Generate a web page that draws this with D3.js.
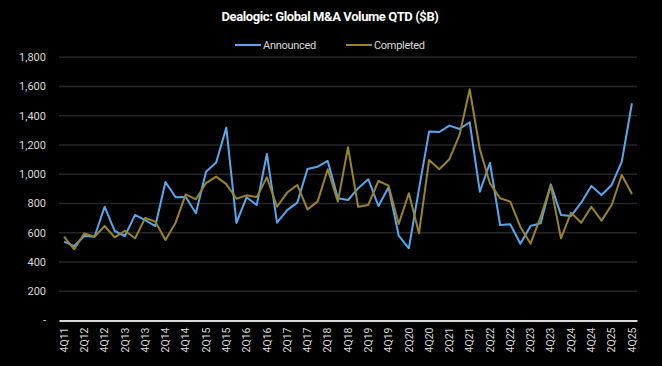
<!DOCTYPE html>
<html><head><meta charset="utf-8">
<script src="https://cdn.jsdelivr.net/npm/d3@7"></script>
<style>
html,body{margin:0;padding:0;background:#000;}
svg{display:block;}
text{font-family:Roboto, "Liberation Sans", sans-serif;}
</style></head>
<body>
<script>
const quarters = ["4Q11","1Q12","2Q12","3Q12","4Q12","1Q13","2Q13","3Q13","4Q13","1Q14","2Q14","3Q14","4Q14",
"1Q15","2Q15","3Q15","4Q15","1Q16","2Q16","3Q16","4Q16","1Q17","2Q17","3Q17","4Q17","1Q18","2Q18","3Q18","4Q18",
"1Q19","2Q19","3Q19","4Q19","1Q20","2Q20","3Q20","4Q20","1Q21","2Q21","3Q21","4Q21","1Q22","2Q22","3Q22","4Q22",
"1Q23","2Q23","3Q23","4Q23","1Q24","2Q24","3Q24","4Q24","1Q25","2Q25","3Q25","4Q25"];
const announced = [539,509,578,573,778,612,578,722,687,646,947,843,845,733,1018,1080,1319,667,843,790,1139,669,755,806,1036,1052,1091,836,824,904,966,783,911,580,494,900,1292,1289,1333,1310,1356,881,1079,653,658,525,646,665,931,722,715,806,920,858,927,1086,1486];
const completed = [573,487,596,573,646,569,614,562,701,676,551,669,863,829,940,984,933,833,856,844,979,778,875,927,760,813,1034,813,1185,778,790,954,922,660,870,596,1098,1034,1103,1269,1581,1171,938,836,813,640,526,710,922,562,737,669,778,683,790,995,865];
const yTicks = [0,200,400,600,800,1000,1200,1400,1600,1800];
const tickLabels = quarters.filter((q,i)=>i%2===0);
const seriesNames = ["Announced","Completed"];
const colors = ["#55a8ee","#9a8429"];

const W=662,H=366;
const svg=d3.select("body").append("svg").attr("width",W).attr("height",H);
svg.append("rect").attr("width",W).attr("height",H).attr("fill","#000");

const x=d3.scaleBand().domain(quarters).range([59,637]);
const y=d3.scaleLinear().domain([0,1800]).range([320.5,57.3]);

// gridlines
svg.append("g").selectAll("line").data(yTicks.filter(d=>d>0)).join("line")
  .attr("x1",59).attr("x2",637).attr("y1",d=>y(d)).attr("y2",d=>y(d))
  .attr("stroke","#262626").attr("stroke-width",1.5);

// y axis labels
const fmt=d3.format(",");
svg.append("g").selectAll("text").data(yTicks).join("text")
  .attr("x",46).attr("y",d=>y(d)).attr("dy","0.35em").attr("text-anchor","end")
  .attr("fill","#d9d9d9").attr("font-size",11)
  .text(d=>d===0?"-":fmt(d));

// x axis
const xAxis=d3.axisBottom(x).tickValues(tickLabels).tickSize(0).tickPadding(0);
const gx=svg.append("g").attr("transform","translate(0,320.5)").call(xAxis);
gx.select(".domain").attr("stroke","#d9d9d9").attr("stroke-width",2);
gx.selectAll("text").attr("fill","#d9d9d9").attr("font-size",10.5)
  .attr("font-family","Roboto, sans-serif")
  .attr("transform","rotate(-90)").attr("text-anchor","end")
  .attr("x",-7).attr("y",0).attr("dy","0.35em");

// lines
const line=d3.line().x((d,i)=>x(quarters[i])+x.bandwidth()/2).y(d=>y(d));
[announced,completed].forEach((s,k)=>{
  svg.append("path").datum(s).attr("d",line).attr("fill","none")
    .attr("stroke",colors[k]).attr("stroke-width",2).attr("stroke-linejoin","round");
});

// title
svg.append("text").attr("x",330).attr("y",21).attr("text-anchor","middle")
  .attr("fill","#ffffff").attr("font-size",13).attr("font-weight","bold")
  .attr("letter-spacing","-0.4").text("Dealogic: Global M&A Volume QTD ($B)");

// legend
const legX=[235,346];
seriesNames.forEach((n,k)=>{
  svg.append("line").attr("x1",legX[k]).attr("x2",legX[k]+26).attr("y1",45).attr("y2",45)
    .attr("stroke",colors[k]).attr("stroke-width",2);
  svg.append("text").attr("x",legX[k]+28).attr("y",45).attr("dy","0.35em")
    .attr("fill","#d9d9d9").attr("font-size",11).attr("letter-spacing","-0.3").text(n);
});
</script>
</body></html>
